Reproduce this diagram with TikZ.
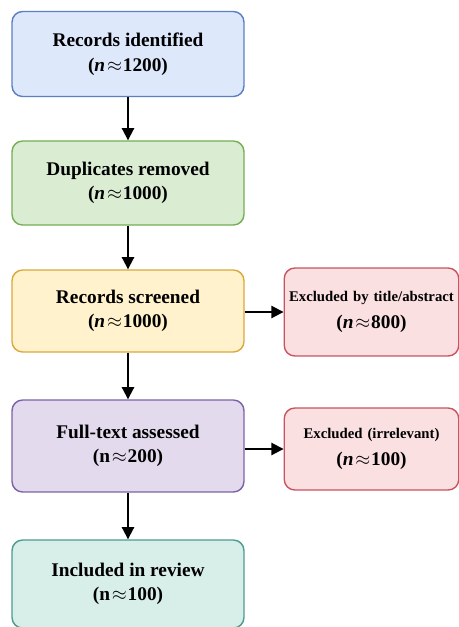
\documentclass[tikz,border=0pt]{standalone}
\usepackage{fontspec}
\setmainfont{Liberation Serif}
\usetikzlibrary{arrows.meta}
\definecolor{blueF}{HTML}{DDE8FB}\definecolor{blueD}{HTML}{5B7FC0}
\definecolor{greenF}{HTML}{DAEDD3}\definecolor{greenD}{HTML}{74AE55}
\definecolor{yellowF}{HTML}{FFF2CC}\definecolor{yellowD}{HTML}{D9A93A}
\definecolor{purpleF}{HTML}{E3DAEE}\definecolor{purpleD}{HTML}{7B62A6}
\definecolor{redF}{HTML}{FBE0E2}\definecolor{redD}{HTML}{C8545F}
\definecolor{tealF}{HTML}{D8EEE9}\definecolor{tealD}{HTML}{4A9C90}
\newcommand{\nn}{\textit{n}}
\newcommand{\ap}{\kern1pt$\approx$\kern0.5pt}
\tikzset{
  stage/.style={draw, line width=0.8pt, rounded corners=6pt, align=center,
    minimum width=4.64cm, font=\fontsize{11}{14}\selectfont\bfseries},
  excl/.style={stage, minimum width=3.46cm, text width=3.42cm, inner sep=1pt,
    fill=redF, draw=redD, font=\fontsize{8.4}{15}\selectfont\bfseries},
  flow/.style={line width=1.1pt, -{Triangle[length=7pt,width=7pt]}}
}
\begin{document}
\begin{tikzpicture}[x=0.02cm, y=-0.02cm]
\useasboundingbox (0,0) rectangle (458,627);
% left column
\node[stage, fill=blueF, draw=blueD, minimum height=1.7cm] (ident) at (128,54) {Records identified\\(\nn\ap1200)};
\node[stage, fill=greenF, draw=greenD, minimum height=1.68cm] (dup) at (128,183) {Duplicates removed\\(\nn\ap1000)};
\node[stage, fill=yellowF, draw=yellowD, minimum height=1.64cm] (screen) at (128,311) {Records screened\\(\nn\ap1000)};
\node[stage, fill=purpleF, draw=purpleD, minimum height=1.84cm] (full) at (128,446) {Full-text assessed\\(n\ap200)};
\node[stage, fill=tealF, draw=tealD, minimum height=1.76cm] (incl) at (128,584) {Included in review\\(n\ap100)};
% exclusions
\node[excl, minimum height=1.76cm] (exTitle) at (371.5,312) {Excluded by title/abstract\\{\fontsize{11}{15}\selectfont(\nn\ap800)}};
\node[excl, minimum height=1.64cm] (exIrr) at (371.5,449) {Excluded (irrelevant)\\{\fontsize{11}{15}\selectfont(\nn\ap100)}};
% arrows
\draw[flow] (ident) -- (dup);
\draw[flow] (dup) -- (screen);
\draw[flow] (screen) -- (full);
\draw[flow] (full) -- (incl);
\draw[flow] (screen.east |- exTitle.west) -- (exTitle.west);
\draw[flow] (full.east |- exIrr.west) -- (exIrr.west);
\end{tikzpicture}
\end{document}
